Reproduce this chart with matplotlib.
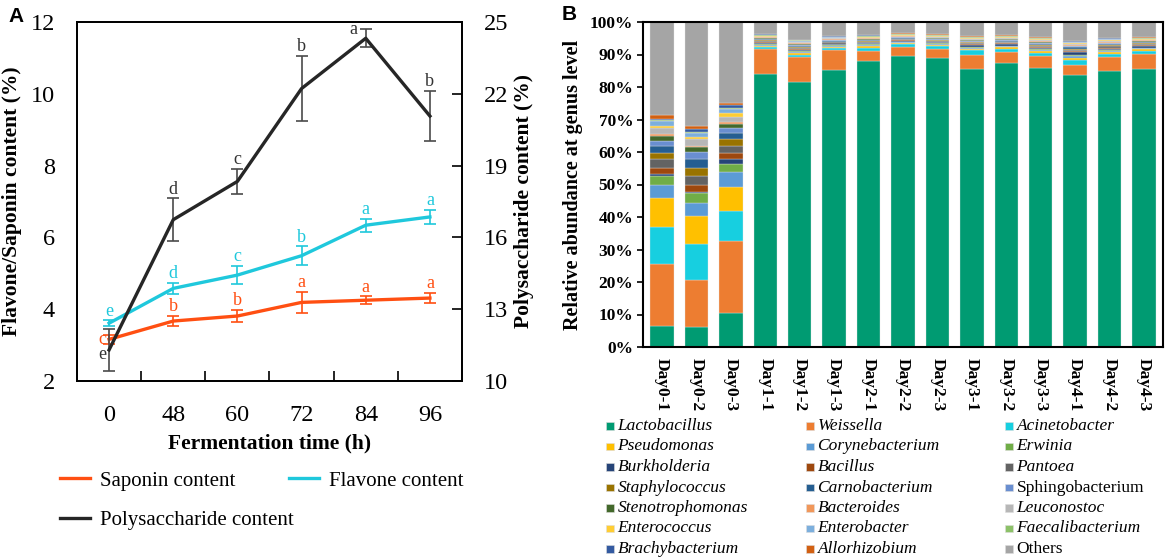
import matplotlib
matplotlib.use("Agg")
import matplotlib.pyplot as plt
from matplotlib.patches import Rectangle
import numpy as np

SERIF = ["Liberation Serif", "DejaVu Serif"]
SANS = ["Liberation Sans", "DejaVu Sans"]
plt.rcParams['font.family'] = SERIF

# ---------------- Panel A data ----------------
times = ["0", "48", "60", "72", "84", "96"]
saponin = [3.16, 3.67, 3.81, 4.19, 4.25, 4.31]
saponin_err = [0.12, 0.15, 0.18, 0.29, 0.11, 0.14]
saponin_sig = ["c", "b", "b", "a", "a", "a"]
flavone = [3.61, 4.58, 4.95, 5.49, 6.34, 6.57]
flavone_err = [0.08, 0.16, 0.25, 0.26, 0.18, 0.20]
flavone_sig = ["e", "d", "c", "b", "a", "a"]
polysac = [11.30, 16.74, 18.34, 22.22, 24.32, 21.07]
polysac_err = [0.89, 0.89, 0.52, 1.37, 0.38, 1.04]
polysac_sig = ["e", "d", "c", "b", "a", "b"]

# ---------------- Panel B data ----------------
samples = ["Day0-1", "Day0-2", "Day0-3", "Day1-1", "Day1-2", "Day1-3",
           "Day2-1", "Day2-2", "Day2-3", "Day3-1", "Day3-2", "Day3-3",
           "Day4-1", "Day4-2", "Day4-3"]
lactobacillus = [6.6, 6.2, 10.6, 84.0, 81.4, 85.2, 88.1, 89.4, 88.8, 85.4, 87.4, 85.9, 83.6, 84.9, 85.4]
weissella = [19.0, 14.4, 22.0, 7.6, 7.9, 6.3, 3.0, 2.8, 3.0, 4.5, 3.5, 3.5, 3.2, 4.4, 4.7]
acinetobacter = [11.3, 11.2, 9.3, 0.6, 0.6, 0.4, 1.0, 0.9, 0.8, 1.4, 0.9, 1.2, 1.4, 1.0, 1.0]
pseudomonas = [9.0, 8.5, 7.3, 0.5, 0.6, 0.4, 0.6, 0.5, 0.4, 0.5, 0.4, 0.5, 0.8, 0.5, 0.5]
corynebacterium = [3.8, 4.0, 4.6, 0.3, 0.3, 0.3, 0.3, 0.2, 0.3, 0.3, 0.3, 0.3, 0.5, 0.3, 0.3]
erwinia = [3.0, 3.0, 2.5, 0.2, 0.2, 0.2, 0.2, 0.2, 0.2, 0.2, 0.2, 0.2, 0.3, 0.2, 0.2]
burkholderia = [0.5, 0.5, 1.5, 0.3, 0.3, 0.3, 0.2, 0.2, 0.2, 0.5, 0.4, 0.4, 0.9, 0.5, 0.4]
bacillus = [2.0, 2.1, 1.8, 0.2, 0.3, 0.2, 0.2, 0.2, 0.2, 0.3, 0.3, 0.3, 0.4, 0.3, 0.4]
pantoea = [2.7, 2.7, 2.4, 0.4, 0.5, 0.4, 0.3, 0.3, 0.3, 0.3, 0.3, 0.4, 0.4, 0.4, 0.3]
staphylococcus = [1.7, 2.6, 1.9, 0.3, 0.3, 0.2, 0.3, 0.2, 0.2, 0.3, 0.3, 0.3, 0.3, 0.3, 0.3]
carnobacterium = [2.3, 2.5, 2.1, 0.3, 0.3, 0.3, 0.2, 0.2, 0.2, 0.3, 0.3, 0.3, 0.4, 0.3, 0.3]
sphingobacterium = [1.5, 2.2, 1.5, 0.2, 0.3, 0.2, 0.2, 0.2, 0.2, 0.2, 0.2, 0.3, 0.3, 0.3, 0.2]
stenotrophomonas = [1.5, 1.6, 1.0, 0.2, 0.2, 0.2, 0.2, 0.1, 0.2, 0.2, 0.2, 0.2, 0.2, 0.2, 0.2]
bacteroides = [0.7, 0.5, 0.6, 0.2, 0.3, 0.2, 0.2, 0.2, 0.2, 0.2, 0.2, 0.3, 0.3, 0.3, 0.2]
leuconostoc = [1.8, 1.9, 1.6, 0.2, 0.2, 0.2, 0.2, 0.1, 0.2, 0.2, 0.2, 0.3, 0.3, 0.3, 0.2]
enterococcus = [0.7, 0.7, 1.3, 0.2, 0.3, 0.2, 0.2, 0.2, 0.2, 0.2, 0.2, 0.3, 0.3, 0.3, 0.2]
enterobacter = [1.3, 1.1, 1.2, 0.1, 0.2, 0.1, 0.1, 0.1, 0.1, 0.2, 0.2, 0.2, 0.2, 0.2, 0.1]
faecalibacterium = [0.4, 0.4, 0.4, 0.3, 0.2, 0.2, 0.3, 0.3, 0.3, 0.2, 0.2, 0.2, 0.2, 0.2, 0.2]
brachybacterium = [0.5, 1.0, 0.8, 0.1, 0.1, 0.1, 0.1, 0.1, 0.1, 0.1, 0.1, 0.1, 0.1, 0.1, 0.1]
allorhizobium = [1.2, 0.9, 0.8, 0.1, 0.1, 0.1, 0.1, 0.1, 0.1, 0.1, 0.1, 0.1, 0.1, 0.1, 0.1]
others = [28.5, 32.0, 24.8, 3.7, 5.4, 4.3, 4.0, 3.5, 3.8, 4.4, 4.1, 4.7, 5.8, 4.9, 4.7]

taxa_names = ["Lactobacillus", "Weissella", "Acinetobacter", "Pseudomonas",
              "Corynebacterium", "Erwinia", "Burkholderia", "Bacillus", "Pantoea",
              "Staphylococcus", "Carnobacterium", "Sphingobacterium",
              "Stenotrophomonas", "Bacteroides", "Leuconostoc", "Enterococcus",
              "Enterobacter", "Faecalibacterium", "Brachybacterium",
              "Allorhizobium", "Others"]
taxa_values = [lactobacillus, weissella, acinetobacter, pseudomonas, corynebacterium,
               erwinia, burkholderia, bacillus, pantoea, staphylococcus, carnobacterium,
               sphingobacterium, stenotrophomonas, bacteroides, leuconostoc, enterococcus,
               enterobacter, faecalibacterium, brachybacterium, allorhizobium, others]
taxa_colors = ["#009B72", "#ED7D31", "#17CFE0", "#FFC000", "#5B9BD5", "#70AD47",
               "#264478", "#9E480E", "#636363", "#997300", "#255E91", "#698ED0",
               "#43682B", "#F1975A", "#B7B7B7", "#FFCD33", "#7CAFDD", "#8CC168",
               "#335AA1", "#D26012", "#A5A5A5"]
non_italic = {"Sphingobacterium", "Others"}

W, H = 1169, 558
fig = plt.figure(figsize=(W / 100, H / 100), dpi=100)

def fx(px):
    return px / W

def fy(py):
    return 1 - py / H

# ================= Panel A =================
axA = fig.add_axes([fx(77), fy(381), fx(462) - fx(77), fy(22) - fy(381)])
axA2 = axA.twinx()
x = np.arange(len(times))
c_red, c_cyan, c_black = "#FF4F12", "#1FC8DC", "#262626"

def draw_series(ax, vals, errs, color, ecolor, label):
    ln, = ax.plot(x, vals, color=color, lw=2.4, label=label, zorder=3)
    ax.errorbar(x, vals, yerr=errs, fmt="none", ecolor=ecolor, elinewidth=1.2,
                capsize=4, capthick=1.2, zorder=2)
    return ln

l_sap = draw_series(axA, saponin, saponin_err, c_red, c_red, "Saponin content")
l_fla = draw_series(axA, flavone, flavone_err, c_cyan, c_cyan, "Flavone content")
l_pol = draw_series(axA2, polysac, polysac_err, c_black, "#4a4a4a", "Polysaccharide content")

def letters(ax, vals, errs, sigs, color, special):
    for i, (v, e, s) in enumerate(zip(vals, errs, sigs)):
        if i in special:
            dx, dy = special[i]
            ax.annotate(s, (x[i], v), xytext=(dx, dy), textcoords="offset points",
                        ha="right", va="center", color=color, fontsize=13)
        else:
            ax.annotate(s, (x[i], v + e), xytext=(0, 0.5), textcoords="offset points",
                        ha="center", va="bottom", color=color, fontsize=13)

letters(axA, saponin, saponin_err, saponin_sig, c_red, {0: (-2, 0)})
letters(axA, flavone, flavone_err, flavone_sig, c_cyan, {})
letters(axA2, polysac, polysac_err, polysac_sig, "#333333", {0: (-2, -3), 4: (-6, 6)})

axA.set_xlim(-0.5, 5.5)
axA.set_ylim(2, 12)
axA2.set_ylim(10, 25)
axA.set_yticks([2, 4, 6, 8, 10, 12])
axA2.set_yticks([10, 13, 16, 19, 22, 25])
axA.set_xticks(x)
axA.set_xticklabels(times)
axA.set_xticks(np.arange(0.5, 5.0, 1.0), minor=True)
axA.tick_params(axis="x", which="major", length=0, pad=17, labelsize=17.5)
axA.tick_params(axis="x", which="minor", direction="in", length=7, width=1.2)
axA.tick_params(axis="y", length=0, pad=16, labelsize=17.5)
axA2.tick_params(axis="y", direction="in", length=7, width=1.2, pad=16, labelsize=17.5)
for ax in (axA, axA2):
    for sp in ax.spines.values():
        sp.set_linewidth(1.3)
axA.set_ylabel("Flavone/Saponin content (%)", fontsize=15.5, fontweight="bold", labelpad=6)
axA2.set_ylabel("Polysaccharide content (%)", fontsize=15.5, fontweight="bold", labelpad=4)
axA.set_xlabel("Fermentation time (h)", fontsize=15.5, fontweight="bold", labelpad=6)

leg_kw = dict(loc="upper left", frameon=False, fontsize=15, handlelength=1.45,
              handletextpad=0.45, labelspacing=0.95, borderaxespad=0, borderpad=0)
fig.legend([l_sap, l_pol], ["Saponin content", "Polysaccharide content"],
           bbox_to_anchor=(fx(60), fy(471)), **leg_kw)
fig.legend([l_fla], ["Flavone content"],
           bbox_to_anchor=(fx(289), fy(471)), **leg_kw)

fig.text(fx(8), fy(16), "A", fontsize=15, fontweight="bold", family=SANS, va="center")
fig.text(fx(562), fy(14), "B", fontsize=15, fontweight="bold", family=SANS, va="center")

# ================= Panel B =================
axB = fig.add_axes([fx(643), fy(347), fx(1163) - fx(643), fy(22) - fy(347)])
xb = np.arange(len(samples))
bottom = np.zeros(len(samples))
for name, vals, col in zip(taxa_names, taxa_values, taxa_colors):
    v = np.array(vals)
    axB.bar(xb, v, bottom=bottom, width=0.68, color=col, edgecolor="#e6e6e6",
            linewidth=0.25, zorder=2)
    bottom += v
axB.set_xlim(-0.55, 14.55)
axB.set_ylim(0, 100)
axB.set_yticks(np.arange(0, 101, 10))
axB.set_yticklabels([f"{t}%" for t in range(0, 101, 10)])
axB.set_xticks(xb)
axB.set_xticklabels(samples, rotation=270, fontweight="bold")
axB.tick_params(axis="x", length=0, pad=8, labelsize=12.5)
axB.tick_params(axis="y", direction="out", length=4, width=1.2, pad=3, labelsize=12.5)
for lab in axB.get_yticklabels():
    lab.set_fontweight("bold")
for sp in axB.spines.values():
    sp.set_linewidth(1.5)
axB.set_ylabel("Relative abundance at genus level", fontsize=14.5, fontweight="bold", labelpad=5)

# legend of panel B (3 columns x 7 rows)
col_sq = [606, 806, 1005]
row_y0 = 426
row_dy = 20.5
sq = 7.5
for i, (name, col) in enumerate(zip(taxa_names, taxa_colors)):
    r, c = divmod(i, 3)
    yc = row_y0 + r * row_dy
    fig.patches.append(Rectangle((fx(col_sq[c]), fy(yc + sq / 2)), fx(sq), sq / H,
                                 transform=fig.transFigure, facecolor=col,
                                 edgecolor="#dddddd", linewidth=0.4))
    fig.text(fx(col_sq[c] + sq + 4), fy(yc), name, fontsize=12.5, va="center", ha="left",
             style="normal" if name in non_italic else "italic")

fig.savefig("out.png", dpi=100)
